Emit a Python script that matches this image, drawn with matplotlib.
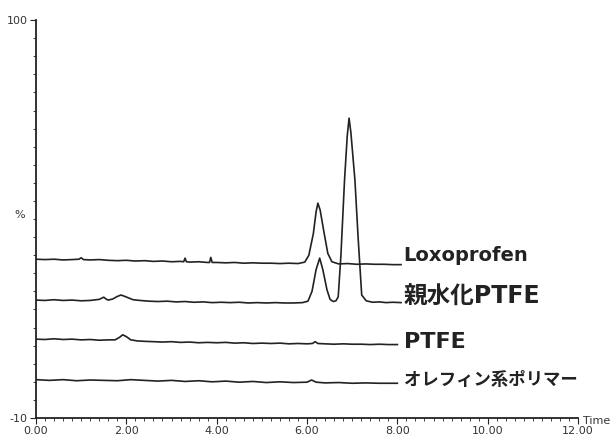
import matplotlib
matplotlib.use("Agg")
import matplotlib.pyplot as plt
from matplotlib.ticker import MultipleLocator

# retention time (min) and response (%) for each trace
t_loxo = [0.0, 0.2, 0.4, 0.6, 0.8, 0.95, 1.0, 1.05, 1.2, 1.4, 1.6, 1.8, 2.0, 2.2, 2.4,
          2.6, 2.8, 3.0, 3.2, 3.27, 3.3, 3.33, 3.4, 3.6, 3.8, 3.84, 3.87, 3.9, 4.0, 4.2,
          4.4, 4.6, 4.8, 5.0, 5.2, 5.4, 5.6, 5.8, 5.95, 6.04, 6.14, 6.2, 6.24, 6.29, 6.38,
          6.46, 6.55, 6.7, 6.9, 7.1, 7.3, 7.5, 7.7, 7.9, 8.08]
v_loxo = [33.9, 33.8, 33.9, 33.7, 33.8, 33.9, 34.3, 33.8, 33.7, 33.8, 33.6, 33.5, 33.6, 33.4, 33.5,
          33.3, 33.4, 33.2, 33.3, 33.2, 34.2, 33.2, 33.1, 33.2, 33.0, 33.0, 34.4, 33.0, 33.0, 32.9,
          33.0, 32.8, 32.9, 32.8, 32.8, 32.7, 32.8, 32.7, 33.1, 35.0, 41.0, 47.0, 49.4, 47.5, 41.0,
          35.5, 33.2, 32.6, 32.7, 32.5, 32.6, 32.5, 32.5, 32.4, 32.4]

t_hyd = [0.0, 0.2, 0.4, 0.6, 0.8, 1.0, 1.2, 1.4, 1.5, 1.55, 1.6, 1.7, 1.8, 1.88, 1.95,
         2.05, 2.15, 2.3, 2.5, 2.7, 2.9, 3.1, 3.3, 3.5, 3.7, 3.9, 4.1, 4.3, 4.5, 4.7,
         4.9, 5.1, 5.3, 5.5, 5.7, 5.9, 6.02, 6.11, 6.2, 6.28, 6.35, 6.44, 6.51, 6.58, 6.64,
         6.69, 6.75, 6.83, 6.89, 6.93, 6.97, 7.06, 7.13, 7.21, 7.31, 7.45, 7.6, 7.75, 7.9, 8.08]
v_hyd = [22.6, 22.5, 22.7, 22.5, 22.6, 22.4, 22.5, 22.8, 23.4, 22.9, 22.6, 22.9, 23.6, 24.0, 23.7,
         23.2, 22.7, 22.5, 22.3, 22.2, 22.3, 22.1, 22.2, 22.0, 22.1, 21.9, 22.0, 21.9, 22.0, 21.8,
         21.9, 21.8, 21.9, 21.8, 21.8, 21.9, 22.3, 25.0, 31.0, 34.2, 31.0, 25.5, 22.8, 22.2, 22.4,
         23.5, 35.0, 55.8, 68.0, 72.9, 69.0, 55.8, 40.0, 24.0, 22.4, 22.0, 22.1, 21.9, 22.0, 21.9]

t_ptfe = [0.0, 0.2, 0.4, 0.6, 0.8, 1.0, 1.2, 1.4, 1.6, 1.75, 1.85, 1.92, 2.0, 2.1, 2.25,
          2.4, 2.6, 2.8, 3.0, 3.2, 3.4, 3.6, 3.8, 4.0, 4.2, 4.4, 4.6, 4.8, 5.0, 5.2,
          5.4, 5.6, 5.8, 6.0, 6.12, 6.18, 6.24, 6.4, 6.6, 6.8, 7.0, 7.2, 7.4, 7.6, 7.8, 8.0]
v_ptfe = [11.8, 11.7, 11.9, 11.7, 11.8, 11.6, 11.7, 11.5, 11.6, 11.6, 12.3, 13.0, 12.5, 11.6, 11.3,
          11.2, 11.1, 11.0, 11.1, 10.9, 11.0, 10.8, 10.9, 10.8, 10.9, 10.7, 10.8, 10.6, 10.7, 10.6,
          10.7, 10.5, 10.6, 10.5, 10.6, 11.1, 10.6, 10.5, 10.4, 10.5, 10.4, 10.4, 10.3, 10.4, 10.3, 10.3]

t_ole = [0.0, 0.3, 0.6, 0.9, 1.2, 1.5, 1.8, 2.1, 2.4, 2.7, 3.0, 3.3, 3.6, 3.9, 4.2,
         4.5, 4.8, 5.1, 5.4, 5.7, 6.0, 6.1, 6.2, 6.4, 6.7, 7.0, 7.3, 7.6, 7.9, 8.0]
v_ole = [0.6, 0.4, 0.6, 0.3, 0.5, 0.4, 0.3, 0.6, 0.4, 0.2, 0.4, 0.1, 0.3, 0.0, 0.2,
         -0.1, 0.1, -0.2, 0.0, -0.2, -0.1, 0.5, -0.1, -0.3, -0.2, -0.4, -0.3, -0.4, -0.4, -0.4]

labels = ["Loxoprofen", "親水化PTFE", "PTFE", "オレフィン系ポリマー"]
label_y = [35.0, 23.4, 11.0, 0.6]
x_ticks = [0, 2, 4, 6, 8, 10, 12]
x_ticklabels = ["0.00", "2.00", "4.00", "6.00", "8.00", "10.00", "12.00"]

INK = "#222222"
LATIN_FIRST = ["DejaVu Sans", "Noto Sans CJK JP"]
JP = ["Noto Sans CJK JP", "DejaVu Sans"]
label_fonts = [(LATIN_FIRST, 14), (LATIN_FIRST, 17), (LATIN_FIRST, 16), (JP, 12.5)]

fig = plt.figure(figsize=(6.15, 4.48), dpi=100)
ax = fig.add_axes([0.0585, 0.067, 0.8815, 0.888])

for t, v in [(t_loxo, v_loxo), (t_hyd, v_hyd), (t_ptfe, v_ptfe), (t_ole, v_ole)]:
    ax.plot(t, v, color=INK, lw=1.2)

for lab, y, (fam, size) in zip(labels, label_y, label_fonts):
    ax.text(8.14, y, lab, fontsize=size, fontweight="bold", family=fam,
            color=INK, va="center", ha="left")

ax.set_xlim(0, 12)
ax.set_ylim(-10, 100)
for s in ["top", "right"]:
    ax.spines[s].set_visible(False)
for s in ["left", "bottom"]:
    ax.spines[s].set_linewidth(1.3)
    ax.spines[s].set_color(INK)

ax.set_xticks(x_ticks)
ax.set_xticklabels(x_ticklabels)
ax.xaxis.set_minor_locator(MultipleLocator(0.2))
ax.set_yticks([-10, 100])
ax.set_yticklabels(["-10", "100"])
ax.yaxis.set_minor_locator(MultipleLocator(5))
ax.tick_params(axis="both", which="major", length=4, width=0.8, color=INK,
               labelsize=8, labelcolor="#333333", pad=2)
ax.tick_params(axis="both", which="minor", length=2, width=0.6, color=INK)

fig.text(20 / 615, 1 - 215 / 448, "%", fontsize=8, color="#333333",
         ha="center", va="center")
fig.text(583 / 615, 1 - 421 / 448, "Time", fontsize=8, color="#333333",
         ha="left", va="center")

fig.savefig("out.png", dpi=100)
